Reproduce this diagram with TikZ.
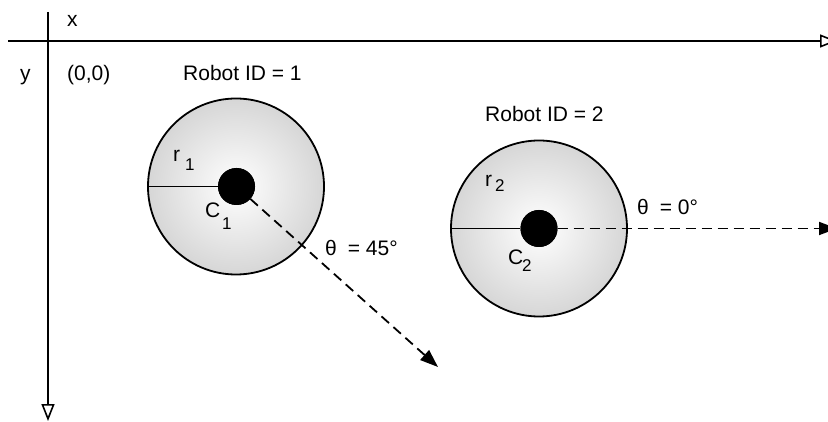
\documentclass[tikz,border=0pt]{standalone}
\usepackage{fontspec}
\setmainfont{Liberation Sans}
\usetikzlibrary{arrows.meta}
\begin{document}
\begin{tikzpicture}[x=1pt,y=-1pt, font=\fontsize{21}{25}\selectfont,
  axisline/.style={line width=1.8pt, -{Triangle[open,length=17pt,width=13pt,line width=1.6pt]}},
  robot/.style={circle, draw, line width=1.8pt, minimum size=176pt, inner sep=0pt, inner color=white, outer color=gray!32},
  hub/.style={circle, fill=black, minimum size=37pt, inner sep=0pt},
  radline/.style={line width=1.8pt},
  headline/.style={line width=1.8pt, dash pattern=on 10pt off 6pt, -{Triangle[length=18pt,width=13pt]}},
  lbl/.style={anchor=base west, inner sep=0pt},
  subtxt/.style={anchor=base west, inner sep=0pt, font=\fontsize{17}{20}\selectfont}]
\useasboundingbox (0,0) rectangle (828,422);
% axes
\coordinate (xstart) at (8,41);
\coordinate (xend) at (837,41);
\coordinate (ystart) at (48,12);
\coordinate (yend) at (48,421);
\draw[axisline] (xstart) -- (xend);
\draw[axisline] (ystart) -- (yend);
\node[lbl] (xl) at (67,27) {x};
\node[lbl] (yl) at (20,81) {y};
\node[lbl] (origin) at (67,81) {(0,0)};
\node[lbl] (id1) at (183,81) {Robot ID = 1};
\node[lbl] (id2) at (485,122) {Robot ID = 2};
% robot 1
\node[robot] (r1) at (236,186.5) {};
\node[hub] (c1) at (236.5,186.5) {};
\coordinate (h1) at (438,367);
\draw[radline] (r1.west) -- (c1.west);
\draw[headline] (c1) -- (h1);
\node[hub] at (c1) {};
\node[lbl] (r1l) at (173,162) {r};
\node[subtxt] (r1s) at (185,171) {1};
\node[lbl] (c1l) at (205,218) {C};
\node[subtxt] (c1s) at (222,230) {1};
\node[lbl] (t1) at (325,256) {θ\hspace{11pt}= 45°};
% robot 2
\node[robot] (r2) at (539,228.5) {};
\node[hub] (c2) at (539,228.5) {};
\coordinate (h2) at (837,228.5);
\draw[radline] (r2.west) -- (c2.west);
\draw[headline] (c2) -- (h2);
\node[hub] at (c2) {};
\node[lbl] (r2l) at (485,187) {r};
\node[subtxt] (r2s) at (495,192) {2};
\node[lbl] (c2l) at (508,265) {C};
\node[subtxt] (c2s) at (522,272) {2};
\node[lbl] (t2) at (637,215) {θ\hspace{11pt}= 0°};
\end{tikzpicture}
\end{document}
